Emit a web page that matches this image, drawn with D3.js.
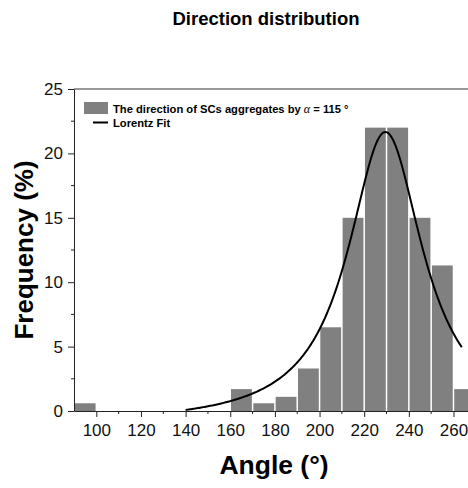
<!DOCTYPE html>
<html>
<head>
<meta charset="utf-8">
<script src="https://cdn.jsdelivr.net/npm/d3@7"></script>
<style>
	body { margin: 0; background: #fff; }
	svg { display: block; font-family: Arial, 'Liberation Sans', sans-serif; }
</style>
</head>
<body>
<div id="chart"></div>
<script>
// histogram bins (left edge, width 10) and frequency in %
const binStarts = [90, 160, 170, 180, 190, 200, 210, 220, 230, 240, 250, 260]
const frequency = [0.6, 1.7, 0.6, 1.1, 3.3, 6.5, 15, 22, 22, 15, 11.3, 1.7]
const binWidth = 10

// Lorentz fit parameters
const fitCenter = 229.5
const fitWidth = 41
const fitOffset = -1.05
const fitHeight = 22.71
const fitRange = [140, 263.7]

const xTicks = [100, 120, 140, 160, 180, 200, 220, 240, 260]
const xMinor = [110, 130, 150, 170, 190, 210, 230, 250]
const yTicks = [0, 5, 10, 15, 20, 25]
const yMinor = [2.5, 7.5, 12.5, 17.5, 22.5]

const W = 468
const H = 488
const margin = { left: 74, right: 0, top: 89, bottom: 77 }

const svg = d3.select('#chart')
	.append('svg')
	.attr('width', W)
	.attr('height', H)

const x = d3.scaleLinear()
	.domain([90, 266.5])
	.range([margin.left, W - margin.right])

const y = d3.scaleLinear()
	.domain([0, 25])
	.range([H - margin.bottom, margin.top])

svg.append('clipPath')
	.attr('id', 'plotClip')
	.append('rect')
	.attr('x', margin.left)
	.attr('y', margin.top)
	.attr('width', W - margin.left)
	.attr('height', H - margin.bottom - margin.top)

// title
svg.append('text')
	.attr('x', 266)
	.attr('y', 25)
	.attr('text-anchor', 'middle')
	.style('font-weight', 'bold')
	.style('font-size', '18.5px')
	.text('Direction distribution')

// bars
svg.append('g')
	.attr('clip-path', 'url(#plotClip)')
	.selectAll('rect')
	.data(binStarts)
	.enter()
	.append('rect')
	.attr('x', d => x(d) + 0.75)
	.attr('width', d => x(d + binWidth) - x(d) - 1.5)
	.attr('y', (d, i) => y(frequency[i]))
	.attr('height', (d, i) => y(0) - y(frequency[i]))
	.attr('fill', '#808080')

// fit curve
const lorentz = a => fitOffset + fitHeight / (1 + Math.pow(2 * (a - fitCenter) / fitWidth, 2))
const fitX = d3.range(fitRange[0], fitRange[1], 0.5).concat([fitRange[1]])

svg.append('path')
	.datum(fitX)
	.attr('fill', 'none')
	.attr('stroke', '#000')
	.attr('stroke-width', 2)
	.attr('d', d3.line()
		.x(d => x(d))
		.y(d => y(Math.max(0, lorentz(d))))
	)

// top frame line
svg.append('line')
	.attr('x1', margin.left)
	.attr('x2', W)
	.attr('y1', y(25))
	.attr('y2', y(25))
	.attr('stroke', '#333')
	.attr('stroke-width', 1)

// x axis
const xAxis = svg.append('g')
	.attr('transform', `translate(0,${y(0)})`)
	.call(d3.axisBottom(x).tickValues(xTicks).tickSize(6).tickSizeOuter(0).tickPadding(7))
xAxis.selectAll('text').style('font-size', '17px').attr('fill', '#111')
xAxis.selectAll('line, path').attr('stroke', '#222')
xAxis.selectAll('.minor')
	.data(xMinor)
	.enter()
	.append('line')
	.attr('class', 'minor')
	.attr('x1', d => x(d))
	.attr('x2', d => x(d))
	.attr('y1', 0)
	.attr('y2', 3)
	.attr('stroke', '#222')

// y axis
const yAxis = svg.append('g')
	.attr('transform', `translate(${margin.left},0)`)
	.call(d3.axisLeft(y).tickValues(yTicks).tickSize(6).tickSizeOuter(0).tickPadding(5))
yAxis.selectAll('text').style('font-size', '17px').attr('fill', '#111')
yAxis.selectAll('line, path').attr('stroke', '#222')
yAxis.selectAll('.minor')
	.data(yMinor)
	.enter()
	.append('line')
	.attr('class', 'minor')
	.attr('y1', d => y(d))
	.attr('y2', d => y(d))
	.attr('x1', 0)
	.attr('x2', -3)
	.attr('stroke', '#222')

// axis titles
svg.append('text')
	.attr('x', 274)
	.attr('y', 474)
	.attr('text-anchor', 'middle')
	.style('font-weight', 'bold')
	.style('font-size', '26.5px')
	.text('Angle (°)')

svg.append('text')
	.attr('transform', 'translate(33,250) rotate(-90)')
	.attr('text-anchor', 'middle')
	.style('font-weight', 'bold')
	.style('font-size', '26px')
	.text('Frequency (%)')

// legend
const legend = svg.append('g')
legend.append('rect')
	.attr('x', 84)
	.attr('y', 102)
	.attr('width', 24)
	.attr('height', 12)
	.attr('fill', '#808080')
legend.append('line')
	.attr('x1', 93)
	.attr('x2', 108)
	.attr('y1', 122.5)
	.attr('y2', 122.5)
	.attr('stroke', '#000')
	.attr('stroke-width', 2)

const legendText = legend.append('text')
	.attr('x', 113)
	.attr('y', 112.5)
	.style('font-weight', 'bold')
	.style('font-size', '11.2px')
legendText.append('tspan').text('The direction of SCs aggregates by ')
legendText.append('tspan')
	.style('font-style', 'italic')
	.style('font-weight', 'normal')
	.style('font-family', "'Liberation Serif', serif")
	.style('font-size', '12px')
	.text('α')
legendText.append('tspan').text(' = 115 °')

legend.append('text')
	.attr('x', 113)
	.attr('y', 127)
	.style('font-weight', 'bold')
	.style('font-size', '11.2px')
	.text('Lorentz Fit')
</script>
</body>
</html>
